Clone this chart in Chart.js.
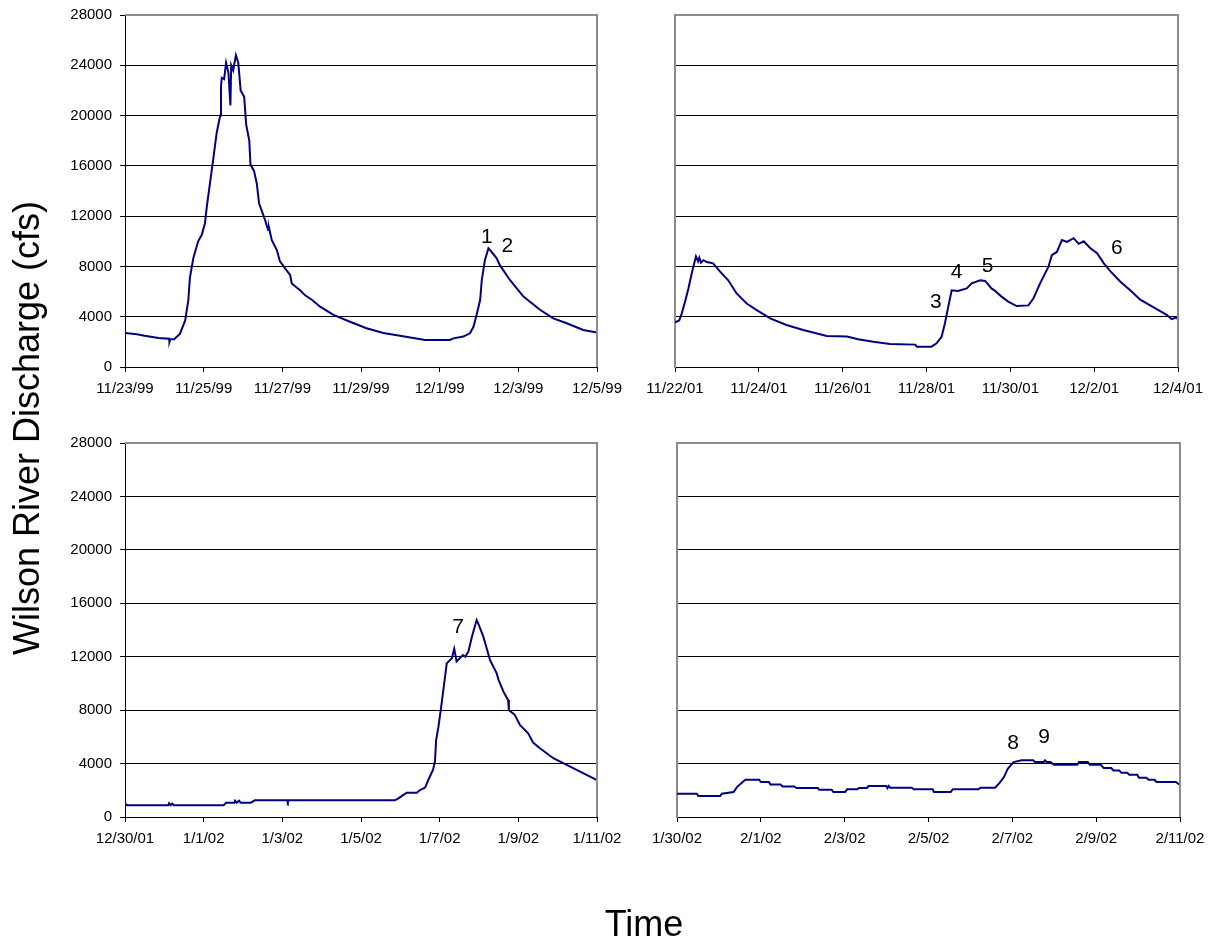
<!DOCTYPE html>
<html>
<head>
<meta charset="utf-8">
<title>Wilson River Discharge</title>
<script src="https://cdn.jsdelivr.net/npm/chart.js@4.4.0/dist/chart.umd.min.js"></script>
<style>
  html, body { margin: 0; padding: 0; background: #fff; }
  #page { position: relative; width: 1213px; height: 946px; overflow: hidden; font-family: "Liberation Sans", Arial, sans-serif; }
  #page canvas { position: absolute; left: 0; top: 0; }
  .axis_title { position: absolute; width: 600px; height: 36px; line-height: 36px; font-size: 36px; text-align: center; color: #000; white-space: nowrap; }
  #y_title { left: -273px; top: 410px; transform: rotate(-90deg); }
  #x_title { left: 344px; top: 906px; }
</style>
</head>
<body>
<div id="page">
  <canvas id="chart_1" width="1213" height="946"></canvas>
  <canvas id="chart_2" width="1213" height="946"></canvas>
  <canvas id="chart_3" width="1213" height="946"></canvas>
  <canvas id="chart_4" width="1213" height="946"></canvas>
  <div class="axis_title" id="y_title">Wilson River Discharge (cfs)</div>
  <div class="axis_title" id="x_title">Time</div>
</div>
<script>
// values: x is days since the first tick, y is discharge in cfs

const y_ticks = [0, 4000, 8000, 12000, 16000, 20000, 24000, 28000];

// 11/23/99 - 12/5/99
const p1_ticks = ['11/23/99', '11/25/99', '11/27/99', '11/29/99', '12/1/99', '12/3/99', '12/5/99'];
const p1_days = [0, 0.3, 0.5, 0.85, 1.12, 1.13, 1.15, 1.25, 1.4, 1.53, 1.61, 1.65, 1.74, 1.86, 1.95, 2.03, 2.09, 2.16,
    2.25, 2.33, 2.42, 2.44, 2.46, 2.52, 2.57, 2.63, 2.68, 2.70, 2.75, 2.82, 2.88, 2.94, 3.03, 3.08, 3.16, 3.19, 3.28,
    3.35, 3.41, 3.56, 3.64, 3.66, 3.73, 3.86, 3.94, 4.07, 4.2, 4.24, 4.45, 4.58, 4.75, 4.96, 5.30, 5.72, 6.14, 6.57,
    6.99, 7.33, 7.63, 8.26, 8.35, 8.60, 8.77, 8.86, 8.94, 9.03, 9.07, 9.15, 9.24, 9.32, 9.45, 9.53, 9.79, 10.13,
    10.55, 10.89, 11.23, 11.65, 12];
const p1_cfs = [2700, 2600, 2480, 2300, 2250, 2000, 2200, 2200, 2650, 3700, 5300, 7100, 8700, 10000, 10500, 11400, 13000, 14600,
    16700, 18600, 20000, 22300, 23000, 22900, 24200, 23400, 20800, 24000, 23600, 24800, 24200, 22000, 21500, 19300, 18000, 16100, 15600,
    14600, 13000, 11700, 10900, 11100, 10100, 9300, 8400, 7850, 7300, 6650, 6100, 5700, 5350, 4800, 4150, 3600, 3080, 2700,
    2480, 2300, 2150, 2150, 2280, 2420, 2680, 3200, 4150, 5350, 6900, 8500, 9450, 9150, 8650, 8100, 6900, 5600,
    4550, 3870, 3480, 2950, 2750];
const p1_note_text = ['1', '2'];
const p1_note_day = [9.20, 9.72];
const p1_note_cfs = [10300, 9630];

// 11/22/01 - 12/4/01
const p2_ticks = ['11/22/01', '11/24/01', '11/26/01', '11/28/01', '11/30/01', '12/2/01', '12/4/01'];
const p2_days = [0, 0.1, 0.16, 0.24, 0.32, 0.40, 0.50, 0.55, 0.58, 0.62, 0.68, 0.76, 0.91, 1.07, 1.27, 1.47, 1.71, 1.95,
    2.27, 2.66, 3.06, 3.62, 4.10, 4.37, 4.73, 5.13, 5.73, 5.77, 6.12, 6.24, 6.36, 6.44, 6.52, 6.60, 6.75, 6.96, 7.08,
    7.28, 7.40, 7.55, 7.62, 7.79, 7.95, 8.15, 8.43, 8.55, 8.71, 8.91, 8.99, 9.11, 9.23, 9.35, 9.51, 9.63, 9.75, 9.91,
    10.07, 10.23, 10.39, 10.62, 10.86, 11.10, 11.42, 11.73, 11.85, 11.97, 12];
const p2_cfs = [3550, 3700, 4250, 5200, 6250, 7450, 8800, 8400, 8700, 8300, 8500, 8350, 8250, 7600, 6900, 5850, 5050, 4530,
    3870, 3340, 2940, 2470, 2420, 2200, 2010, 1830, 1780, 1620, 1620, 1880, 2400, 3480, 4800, 6100, 6050, 6250, 6650,
    6900, 6850, 6250, 6100, 5600, 5200, 4850, 4900, 5450, 6650, 7980, 8900, 9150, 10100, 9950, 10250, 9800, 10000, 9450,
    9050, 8250, 7600, 6800, 6100, 5350, 4750, 4150, 3800, 3950, 3750];
const p2_note_text = ['3', '4', '5', '6'];
const p2_note_day = [6.22, 6.72, 7.46, 10.54];
const p2_note_cfs = [5190, 7550, 8030, 9470];

// 12/30/01 - 1/11/02
const p3_ticks = ['12/30/01', '1/1/02', '1/3/02', '1/5/02', '1/7/02', '1/9/02', '1/11/02'];
const p3_days = [0, 0.05, 1.10, 1.12, 1.16, 1.20, 1.24, 2.51, 2.57, 2.78, 2.80, 2.84, 2.90, 2.94, 3.2, 3.3, 4.12, 4.14,
    4.16, 6.86, 6.95, 7.08, 7.16, 7.42, 7.50, 7.63, 7.71, 7.83, 7.88, 7.91, 7.97, 8.05, 8.18, 8.31, 8.37, 8.43, 8.59,
    8.65, 8.73, 8.82, 8.94, 8.98, 9.11, 9.17, 9.28, 9.45, 9.50, 9.62, 9.74, 9.76, 9.91, 10.04, 10.25, 10.38, 10.55,
    10.89, 11.23, 11.57, 12];
const p3_cfs = [1000, 880, 880, 1030, 880, 1000, 880, 880, 1070, 1070, 1220, 1070, 1220, 1070, 1070, 1250, 1250, 1120,
    1250, 1250, 1400, 1650, 1820, 1820, 2020, 2200, 2770, 3520, 4140, 5760, 6760, 8510, 11500, 11880, 12600, 11650, 12130,
    12000, 12380, 13500, 14750, 14500, 13500, 12900, 11750, 10750, 10250, 9400, 8760, 8000, 7650, 6900, 6270, 5550, 5150,
    4400, 3900, 3400, 2770];
const p3_note_text = ['7'];
const p3_note_day = [8.47];
const p3_note_cfs = [14190];

// 1/30/02 - 2/11/02
const p4_ticks = ['1/30/02', '2/1/02', '2/3/02', '2/5/02', '2/7/02', '2/9/02', '2/11/02'];
const p4_days = [0, 0.05, 0.47, 0.51, 1.03, 1.07, 1.35, 1.43, 1.63, 1.96, 2.00, 2.19, 2.23, 2.47, 2.52, 2.80, 2.85, 3.36,
    3.39, 3.69, 3.73, 4.01, 4.06, 4.30, 4.34, 4.53, 4.57, 4.99, 5.02, 5.05, 5.09, 5.60, 5.65, 6.10, 6.13, 6.53, 6.58,
    7.19, 7.24, 7.59, 7.70, 7.80, 7.89, 8.03, 8.22, 8.50, 8.54, 8.75, 8.78, 8.82, 8.91, 8.99, 9.55, 9.59, 9.80, 9.85,
    10.11, 10.18, 10.36, 10.41, 10.55, 10.60, 10.74, 10.79, 10.98, 11.02, 11.20, 11.25, 11.39, 11.44, 11.90, 11.98];
const p4_cfs = [1750, 1745, 1745, 1570, 1570, 1745, 1870, 2240, 2790, 2790, 2620, 2620, 2440, 2440, 2290, 2290, 2170, 2170,
    2040, 2040, 1870, 1870, 2070, 2070, 2170, 2170, 2320, 2320, 2150, 2320, 2190, 2190, 2070, 2070, 1870, 1870, 2070,
    2070, 2190, 2190, 2570, 2990, 3610, 4110, 4240, 4240, 4110, 4110, 4240, 4110, 4110, 3910, 3910, 4110, 4110, 3910,
    3910, 3660, 3660, 3490, 3490, 3310, 3310, 3160, 3160, 2940, 2940, 2790, 2790, 2620, 2620, 2440];
const p4_note_text = ['8', '9'];
const p4_note_day = [8.02, 8.76];
const p4_note_cfs = [5530, 5980];


const font_family = '"Liberation Sans", Arial, sans-serif';
const frame_gray = '#8c8c8c';

Chart.defaults.font.family = font_family;
Chart.defaults.color = '#000';

function to_points(days, cfs) {
    return days.map(function (d, i) { return {x: d, y: cfs[i]}; });
}

/**
 * Builds one of the four panels. area is the wanted plot rectangle in page pixels.
 */
function make_panel(canvas_id, days, cfs, ticks, note_text, note_day, note_cfs, area, with_y_labels) {
    const y_axis_width = 60;
    const x_axis_height = 40;

    const frame_plugin = {
        id: 'frame_' + canvas_id,
        afterDraw(chart) {
            const ctx = chart.ctx;
            const a = chart.chartArea;
            ctx.save();
            ctx.strokeStyle = frame_gray;
            ctx.lineWidth = 2;
            ctx.beginPath();
            ctx.moveTo(a.left, a.top);
            ctx.lineTo(a.right, a.top);
            ctx.lineTo(a.right, a.bottom);
            ctx.stroke();

            // the numbered event marks
            ctx.fillStyle = '#000';
            ctx.font = '21px ' + font_family;
            ctx.textAlign = 'center';
            ctx.textBaseline = 'middle';
            for (let i = 0; i < note_text.length; i++) {
                ctx.fillText(note_text[i], chart.scales.x.getPixelForValue(note_day[i]), chart.scales.y.getPixelForValue(note_cfs[i]));
            }
            ctx.restore();
        }
    };

    return new Chart(document.getElementById(canvas_id), {
        type: 'line',
        data: {
            datasets: [{
                data: to_points(days, cfs),
                borderColor: '#000080',
                borderWidth: 2,
                pointRadius: 0,
                tension: 0,
                fill: false
            }]
        },
        options: {
            responsive: false,
            animation: false,
            events: [],
            layout: {
                padding: {
                    left: area.left - y_axis_width,
                    top: area.top,
                    right: 1213 - area.right,
                    bottom: 946 - area.bottom - x_axis_height
                }
            },
            plugins: {
                legend: {display: false},
                tooltip: {enabled: false}
            },
            scales: {
                x: {
                    type: 'linear',
                    min: 0,
                    max: 12,
                    afterFit: function (scale) {
                        scale.height = x_axis_height;
                        scale.paddingLeft = 0;
                        scale.paddingRight = 0;
                    },
                    grid: {drawOnChartArea: false, drawTicks: true, tickLength: 5, tickColor: '#000'},
                    border: {display: true, color: '#000', width: 1},
                    ticks: {
                        stepSize: 2,
                        autoSkip: false,
                        maxRotation: 0,
                        padding: 8,
                        font: {size: 15},
                        callback: function (value) { return ticks[Math.round(value / 2)]; }
                    }
                },
                y: {
                    type: 'linear',
                    min: y_ticks[0],
                    max: y_ticks[y_ticks.length - 1],
                    afterFit: function (scale) {
                        scale.width = y_axis_width;
                        scale.paddingTop = 0;
                        scale.paddingBottom = 0;
                    },
                    afterBuildTicks: function (scale) {
                        scale.ticks = y_ticks.map(function (v) { return {value: v}; });
                    },
                    grid: {
                        drawTicks: with_y_labels,
                        tickLength: 5,
                        tickColor: '#000',
                        lineWidth: 1,
                        color: function (c) {
                            const v = c.tick ? c.tick.value : null;
                            return (v === y_ticks[0] || v === y_ticks[y_ticks.length - 1]) ? 'rgba(0,0,0,0)' : '#000';
                        }
                    },
                    border: {display: true, color: with_y_labels ? '#000' : frame_gray, width: with_y_labels ? 1 : 2},
                    ticks: {
                        display: with_y_labels,
                        padding: 8,
                        font: {size: 15},
                        callback: function (value) { return String(value); }
                    }
                }
            }
        },
        plugins: [frame_plugin]
    });
}

make_panel('chart_1', p1_days, p1_cfs, p1_ticks, p1_note_text, p1_note_day, p1_note_cfs,
    {left: 125, top: 15, right: 597, bottom: 367}, true);
make_panel('chart_2', p2_days, p2_cfs, p2_ticks, p2_note_text, p2_note_day, p2_note_cfs,
    {left: 675, top: 15, right: 1178, bottom: 367}, false);
make_panel('chart_3', p3_days, p3_cfs, p3_ticks, p3_note_text, p3_note_day, p3_note_cfs,
    {left: 125, top: 443, right: 597, bottom: 817}, true);
make_panel('chart_4', p4_days, p4_cfs, p4_ticks, p4_note_text, p4_note_day, p4_note_cfs,
    {left: 677, top: 443, right: 1180, bottom: 817}, false);
</script>
</body>
</html>
